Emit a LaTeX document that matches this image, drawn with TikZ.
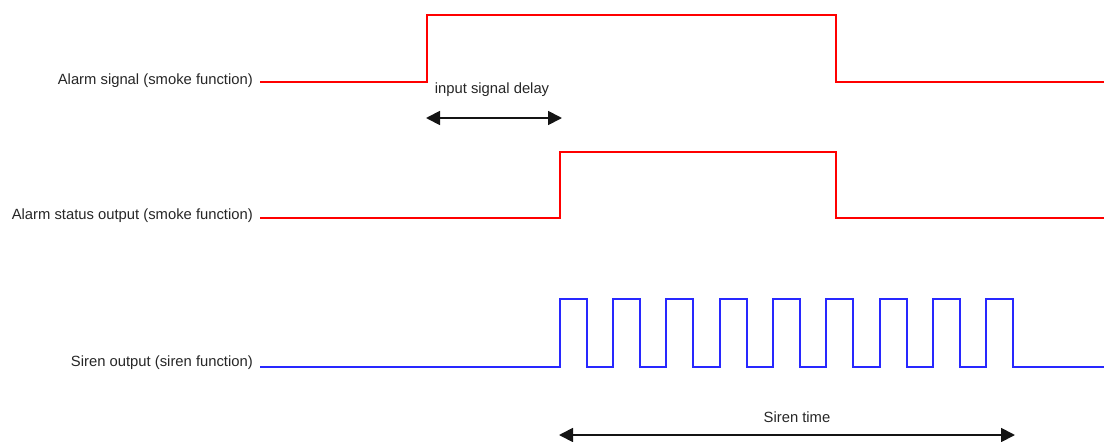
\documentclass[tikz,border=0pt]{standalone}
\usepackage{fontspec}
\setmainfont{Liberation Sans}
\usetikzlibrary{arrows.meta}
\definecolor{sigred}{RGB}{255,0,0}
\definecolor{sigblue}{RGB}{40,40,255}
\definecolor{arrowgray}{RGB}{20,20,20}
\begin{document}
\begin{tikzpicture}[x=1pt,y=-1pt,
  lbl/.style={anchor=east,inner sep=0pt,font=\fontsize{14.8}{17}\selectfont,text=black!85},
  redsig/.style={draw=sigred,line width=2pt,line join=miter},
  bluesig/.style={draw=sigblue,line width=1.8pt,line join=miter},
  dimarrow/.style={draw=arrowgray,line width=1.8pt,{Triangle[length=14pt,width=14pt]}-{Triangle[length=14pt,width=14pt]}},
  dimlbl/.style={inner sep=0pt,font=\fontsize{14.8}{17}\selectfont,text=black!85}]
\useasboundingbox (0,0) rectangle (1104,442);
% labels
\node[lbl] (l1) at (253,81) {Alarm signal (smoke function)};
\node[lbl] (l2) at (253,216) {Alarm status output (smoke function)};
\node[lbl] (l3) at (253,363) {Siren output (siren function)};
% waveform start points
\coordinate (s1) at (260,82);
\coordinate (s2) at (260,218);
\coordinate (s3) at (260,367);
% alarm signal
\draw[redsig] (s1) -- (427,82) -- (427,15) -- (836,15) -- (836,82) -- (1104,82);
% alarm status output
\draw[redsig] (s2) -- (560,218) -- (560,152) -- (836,152) -- (836,218) -- (1104,218);
% siren output
\draw[bluesig] (s3)
  \foreach \r in {560,613,666,720,773,826,880,933,986}{
    -- (\r,367) -- (\r,299) -- (\r+27,299) -- (\r+27,367)}
  -- (1104,367);
% dimension arrows
\coordinate (d1a) at (426,118);
\coordinate (d1b) at (562,118);
\draw[dimarrow] (d1a) -- (d1b);
\node[dimlbl] (t1) at (492,90) {input signal delay};
\coordinate (d2a) at (559,435);
\coordinate (d2b) at (1015,435);
\draw[dimarrow] (d2a) -- (d2b);
\node[dimlbl] (t2) at (797,417) {Siren time};
\end{tikzpicture}
\end{document}
